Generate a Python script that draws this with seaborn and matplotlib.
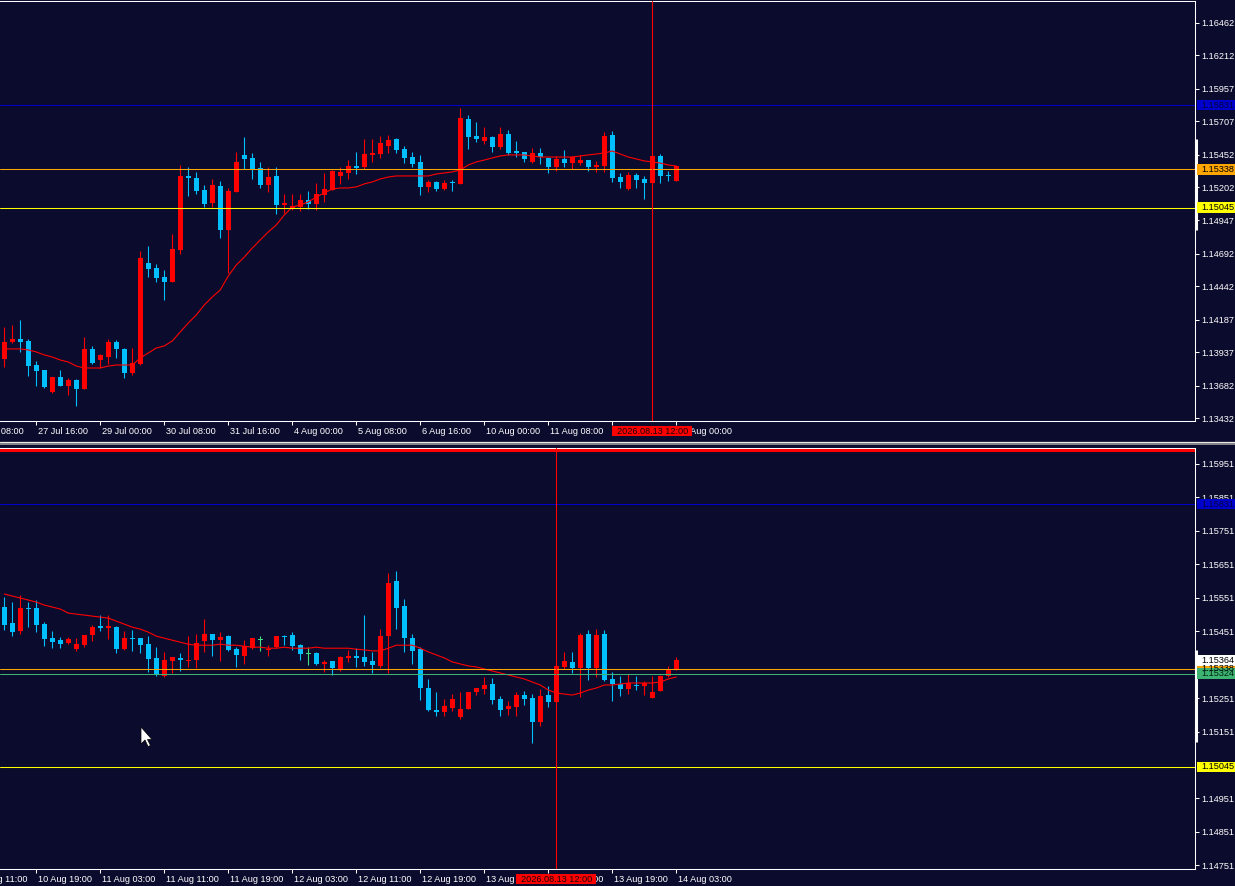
import numpy as np
import matplotlib
matplotlib.use("Agg")
import matplotlib.pyplot as plt
import matplotlib.transforms as mtransforms
from matplotlib.patches import Rectangle, Polygon
from matplotlib.lines import Line2D
import seaborn as sns

# ---- top panel (H4) ----
top_open = [1.13886, 1.14016, 1.14039, 1.14024, 1.13840, 1.13802, 1.13633, 1.13748, 1.13679, 1.13725,
            1.13656, 1.13963, 1.13878, 1.13901, 1.14016, 1.13963, 1.13779, 1.13848, 1.14621, 1.14583,
            1.14514, 1.14476, 1.14721, 1.15288, 1.15273, 1.15181, 1.15081, 1.15211, 1.14874, 1.15165,
            1.15449, 1.15426, 1.15349, 1.15219, 1.15288, 1.15066, 1.15043, 1.15050, 1.15104, 1.15073,
            1.15142, 1.15181, 1.15288, 1.15311, 1.15364, 1.15357, 1.15449, 1.15456, 1.15518, 1.15571,
            1.15495, 1.15433, 1.15395, 1.15204, 1.15242, 1.15188, 1.15242, 1.15227, 1.15724, 1.15594,
            1.15556, 1.15587, 1.15510, 1.15610, 1.15479, 1.15472, 1.15395, 1.15464, 1.15426, 1.15357,
            1.15418, 1.15387, 1.15387, 1.15410, 1.15357, 1.15364, 1.15602, 1.15280, 1.15188, 1.15296,
            1.15265, 1.15234, 1.15441, 1.15296, 1.15250]
top_high = [1.14131, 1.14147, 1.14185, 1.14039, 1.13871, 1.13802, 1.13748, 1.13802, 1.13741, 1.13733,
            1.14055, 1.13986, 1.13924, 1.14039, 1.14032, 1.13970, 1.13970, 1.14713, 1.14752, 1.14614,
            1.14568, 1.14844, 1.15372, 1.15357, 1.15319, 1.15219, 1.15265, 1.15250, 1.15196, 1.15472,
            1.15587, 1.15464, 1.15395, 1.15357, 1.15357, 1.15150, 1.15150, 1.15150, 1.15173, 1.15234,
            1.15311, 1.15334, 1.15357, 1.15410, 1.15472, 1.15571, 1.15571, 1.15594, 1.15602, 1.15579,
            1.15518, 1.15472, 1.15449, 1.15257, 1.15250, 1.15257, 1.15257, 1.15809, 1.15755, 1.15701,
            1.15663, 1.15594, 1.15663, 1.15640, 1.15556, 1.15472, 1.15502, 1.15502, 1.15426, 1.15441,
            1.15487, 1.15441, 1.15449, 1.15410, 1.15403, 1.15625, 1.15633, 1.15311, 1.15319, 1.15311,
            1.15288, 1.15441, 1.15456, 1.15326, 1.15364]
top_low = [1.13825, 1.14009, 1.13940, 1.13756, 1.13679, 1.13664, 1.13626, 1.13679, 1.13610, 1.13526,
           1.13656, 1.13848, 1.13817, 1.13848, 1.13894, 1.13741, 1.13764, 1.13840, 1.14514, 1.14476,
           1.14338, 1.14476, 1.14690, 1.15135, 1.15150, 1.15050, 1.15050, 1.14813, 1.14545, 1.15165,
           1.15342, 1.15265, 1.15196, 1.15165, 1.14997, 1.15004, 1.15027, 1.15020, 1.15035, 1.15027,
           1.15089, 1.15181, 1.15227, 1.15265, 1.15303, 1.15342, 1.15395, 1.15426, 1.15464, 1.15464,
           1.15387, 1.15357, 1.15142, 1.15165, 1.15173, 1.15181, 1.15173, 1.15227, 1.15495, 1.15548,
           1.15533, 1.15472, 1.15495, 1.15449, 1.15433, 1.15395, 1.15387, 1.15380, 1.15311, 1.15326,
           1.15357, 1.15342, 1.15372, 1.15326, 1.15319, 1.15319, 1.15242, 1.15196, 1.15181, 1.15196,
           1.15112, 1.15234, 1.15234, 1.15250, 1.15250]
top_close = [1.14016, 1.14039, 1.14016, 1.13832, 1.13794, 1.13672, 1.13748, 1.13679, 1.13725, 1.13656,
             1.13963, 1.13855, 1.13917, 1.14016, 1.13963, 1.13779, 1.13855, 1.14660, 1.14575, 1.14507,
             1.14476, 1.14729, 1.15288, 1.15273, 1.15173, 1.15073, 1.15219, 1.14874, 1.15173, 1.15395,
             1.15418, 1.15342, 1.15219, 1.15280, 1.15066, 1.15081, 1.15058, 1.15104, 1.15073, 1.15150,
             1.15188, 1.15326, 1.15319, 1.15364, 1.15349, 1.15456, 1.15464, 1.15541, 1.15564, 1.15487,
             1.15426, 1.15380, 1.15204, 1.15242, 1.15188, 1.15234, 1.15234, 1.15732, 1.15587, 1.15571,
             1.15587, 1.15510, 1.15610, 1.15464, 1.15464, 1.15418, 1.15464, 1.15433, 1.15357, 1.15418,
             1.15387, 1.15433, 1.15410, 1.15357, 1.15372, 1.15594, 1.15273, 1.15242, 1.15296, 1.15257,
             1.15234, 1.15441, 1.15288, 1.15288, 1.15364]
top_ma = [1.13963, 1.13963, 1.13963, 1.13955, 1.13940, 1.13917, 1.13901, 1.13878, 1.13863, 1.13832,
          1.13817, 1.13817, 1.13817, 1.13832, 1.13840, 1.13840, 1.13840, 1.13894, 1.13932, 1.13970,
          1.13986, 1.14024, 1.14093, 1.14162, 1.14223, 1.14300, 1.14361, 1.14415, 1.14522, 1.14606,
          1.14667, 1.14736, 1.14798, 1.14859, 1.14913, 1.14989, 1.15050, 1.15066, 1.15089, 1.15127,
          1.15158, 1.15188, 1.15196, 1.15196, 1.15204, 1.15227, 1.15242, 1.15265, 1.15280, 1.15288,
          1.15288, 1.15288, 1.15288, 1.15288, 1.15303, 1.15311, 1.15319, 1.15334, 1.15372, 1.15395,
          1.15410, 1.15426, 1.15441, 1.15449, 1.15449, 1.15449, 1.15441, 1.15433, 1.15433, 1.15433,
          1.15433, 1.15433, 1.15441, 1.15449, 1.15456, 1.15464, 1.15479, 1.15456, 1.15433, 1.15418,
          1.15403, 1.15395, 1.15387, 1.15372, 1.15364]

# ---- bottom panel (H1) ----
bot_open = [1.15523, 1.15475, 1.15451, 1.15520, 1.15520, 1.15472, 1.15430, 1.15424, 1.15415, 1.15397,
            1.15409, 1.15439, 1.15466, 1.15460, 1.15463, 1.15397, 1.15430, 1.15430, 1.15412, 1.15370,
            1.15317, 1.15362, 1.15370, 1.15362, 1.15365, 1.15421, 1.15442, 1.15424, 1.15436, 1.15397,
            1.15376, 1.15400, 1.15427, 1.15395, 1.15403, 1.15436, 1.15439, 1.15409, 1.15385, 1.15385,
            1.15353, 1.15362, 1.15335, 1.15370, 1.15376, 1.15373, 1.15362, 1.15347, 1.15436, 1.15601,
            1.15526, 1.15430, 1.15397, 1.15281, 1.15215, 1.15209, 1.15221, 1.15195, 1.15218, 1.15269,
            1.15278, 1.15293, 1.15248, 1.15218, 1.15224, 1.15260, 1.15251, 1.15180, 1.15260, 1.15239,
            1.15344, 1.15359, 1.15341, 1.15442, 1.15341, 1.15442, 1.15308, 1.15293, 1.15278, 1.15290,
            1.15287, 1.15251, 1.15272, 1.15317, 1.15335]
bot_high = [1.15553, 1.15538, 1.15559, 1.15538, 1.15544, 1.15478, 1.15451, 1.15433, 1.15433, 1.15430,
            1.15439, 1.15469, 1.15499, 1.15499, 1.15466, 1.15451, 1.15454, 1.15430, 1.15436, 1.15403,
            1.15388, 1.15373, 1.15385, 1.15436, 1.15442, 1.15487, 1.15442, 1.15448, 1.15439, 1.15403,
            1.15424, 1.15430, 1.15436, 1.15409, 1.15436, 1.15439, 1.15448, 1.15412, 1.15403, 1.15388,
            1.15365, 1.15362, 1.15376, 1.15395, 1.15400, 1.15499, 1.15388, 1.15457, 1.15625, 1.15631,
            1.15547, 1.15442, 1.15403, 1.15308, 1.15269, 1.15248, 1.15263, 1.15269, 1.15269, 1.15281,
            1.15314, 1.15311, 1.15257, 1.15242, 1.15269, 1.15272, 1.15263, 1.15278, 1.15287, 1.15353,
            1.15388, 1.15388, 1.15445, 1.15454, 1.15457, 1.15454, 1.15329, 1.15317, 1.15323, 1.15317,
            1.15302, 1.15317, 1.15320, 1.15347, 1.15373]
bot_low = [1.15454, 1.15436, 1.15442, 1.15463, 1.15448, 1.15406, 1.15400, 1.15400, 1.15412, 1.15391,
           1.15403, 1.15421, 1.15451, 1.15427, 1.15385, 1.15395, 1.15391, 1.15385, 1.15329, 1.15317,
           1.15314, 1.15326, 1.15332, 1.15344, 1.15341, 1.15388, 1.15376, 1.15362, 1.15391, 1.15344,
           1.15353, 1.15397, 1.15391, 1.15376, 1.15400, 1.15409, 1.15395, 1.15365, 1.15350, 1.15350,
           1.15329, 1.15320, 1.15332, 1.15359, 1.15344, 1.15347, 1.15326, 1.15341, 1.15326, 1.15457,
           1.15388, 1.15353, 1.15245, 1.15212, 1.15198, 1.15198, 1.15212, 1.15189, 1.15218, 1.15260,
           1.15263, 1.15233, 1.15198, 1.15201, 1.15198, 1.15230, 1.15117, 1.15168, 1.15224, 1.15239,
           1.15338, 1.15326, 1.15254, 1.15305, 1.15314, 1.15302, 1.15242, 1.15257, 1.15263, 1.15275,
           1.15260, 1.15251, 1.15272, 1.15314, 1.15335]
bot_close = [1.15469, 1.15448, 1.15520, 1.15517, 1.15469, 1.15427, 1.15418, 1.15412, 1.15427, 1.15412,
             1.15439, 1.15463, 1.15460, 1.15466, 1.15397, 1.15430, 1.15427, 1.15409, 1.15367, 1.15320,
             1.15365, 1.15373, 1.15365, 1.15365, 1.15415, 1.15442, 1.15424, 1.15433, 1.15395, 1.15379,
             1.15406, 1.15430, 1.15427, 1.15397, 1.15436, 1.15433, 1.15406, 1.15382, 1.15385, 1.15353,
             1.15359, 1.15341, 1.15373, 1.15376, 1.15370, 1.15359, 1.15350, 1.15436, 1.15595, 1.15520,
             1.15430, 1.15391, 1.15281, 1.15215, 1.15209, 1.15227, 1.15248, 1.15218, 1.15269, 1.15281,
             1.15290, 1.15245, 1.15215, 1.15227, 1.15260, 1.15248, 1.15180, 1.15257, 1.15239, 1.15347,
             1.15362, 1.15341, 1.15439, 1.15341, 1.15439, 1.15305, 1.15293, 1.15278, 1.15296, 1.15287,
             1.15296, 1.15269, 1.15317, 1.15338, 1.15365]
bot_ma = [1.15562, 1.15556, 1.15550, 1.15544, 1.15538, 1.15529, 1.15523, 1.15517, 1.15505, 1.15502,
          1.15499, 1.15496, 1.15493, 1.15490, 1.15481, 1.15472, 1.15463, 1.15457, 1.15448, 1.15436,
          1.15430, 1.15424, 1.15418, 1.15412, 1.15409, 1.15409, 1.15409, 1.15412, 1.15409, 1.15409,
          1.15406, 1.15403, 1.15403, 1.15400, 1.15400, 1.15403, 1.15400, 1.15400, 1.15400, 1.15403,
          1.15400, 1.15400, 1.15400, 1.15400, 1.15397, 1.15395, 1.15392, 1.15392, 1.15400, 1.15409,
          1.15409, 1.15409, 1.15400, 1.15389, 1.15380, 1.15371, 1.15359, 1.15353, 1.15347, 1.15344,
          1.15338, 1.15332, 1.15326, 1.15320, 1.15314, 1.15308, 1.15299, 1.15290, 1.15275, 1.15266,
          1.15263, 1.15260, 1.15266, 1.15275, 1.15281, 1.15290, 1.15290, 1.15293, 1.15296, 1.15296,
          1.15296, 1.15296, 1.15299, 1.15308, 1.15314]

# axis ticks / labels
top_yticks = [1.16462, 1.16212, 1.15957, 1.15707, 1.15452, 1.15202, 1.14947,
              1.14692, 1.14442, 1.14187, 1.13937, 1.13682, 1.13432]
bot_yticks = [1.15951, 1.15851, 1.15751, 1.15651, 1.15551, 1.15451,
              1.15251, 1.15151, 1.14951, 1.14851, 1.14751]
top_xticks = [4, 12, 20, 28, 36, 44, 52, 60, 68, 76, 84]
top_xlabels = ["27 Jul 16:00", "29 Jul 00:00", "30 Jul 08:00", "31 Jul 16:00", "4 Aug 00:00",
               "5 Aug 08:00", "6 Aug 16:00", "10 Aug 00:00", "11 Aug 08:00", "12 Aug 16:00",
               "14 Aug 00:00"]
top_first_label = "24 Jul 08:00"
bot_xticks = [4, 12, 20, 28, 36, 44, 52, 60, 68, 76, 84]
bot_xlabels = ["10 Aug 19:00", "11 Aug 03:00", "11 Aug 11:00", "11 Aug 19:00", "12 Aug 03:00",
               "12 Aug 11:00", "12 Aug 19:00", "13 Aug 03:00", "13 Aug 11:00", "13 Aug 19:00",
               "14 Aug 03:00"]
bot_first_label = "10 Aug 11:00"

# horizontal levels and price tags
top_levels = [1.15831, 1.15338, 1.15045]
top_level_colors = ['#0000cd', '#ffa500', '#ffff00']
bot_levels = [1.15831, 1.15338, 1.15324, 1.15045]
bot_level_colors = ['#0000cd', '#ffa500', '#3cb371', '#ffff00']
bot_bid = 1.15364
bot_top_line = 1.15992
top_scroll = [1.15571, 1.14874]
bot_scroll = [1.15395, 1.15120]
top_cursor_bar = 81
bot_cursor_bar = 69
cursor_time = "2026.08.13 12:00"

W, H = 1235, 886
BG = '#0b0b2d'
UP, DOWN, DOJI = '#ff0000', '#00bfff', '#40e080'
FS = 6.6

sns.set_theme(style="dark", rc={"axes.facecolor": BG, "figure.facecolor": BG,
                                "axes.edgecolor": "white", "text.color": "white",
                                "xtick.color": "white", "ytick.color": "white"})
plt.rcParams['font.family'] = ['Liberation Sans', 'DejaVu Sans']

fig = plt.figure(figsize=(W / 100, H / 100), dpi=100)
ax_top = fig.add_axes([0, (H - 421) / H, 1195 / W, 420 / H])
ax_bot = fig.add_axes([0, (H - 869) / H, 1195 / W, 421.5 / H])


def draw_candles(ax, o, h, l, c, ppx):
    o, h, l, c = map(np.asarray, (o, h, l, c))
    x = np.arange(len(o))
    cols = np.where(c > o, UP, np.where(c < o, DOWN, DOJI))
    ax.vlines(x, l, h, colors=cols, linewidth=0.8, zorder=3)
    body = np.abs(c - o)
    hgt = np.maximum(body, ppx)
    bottom = np.minimum(o, c) - (hgt - body) / 2
    ax.bar(x, hgt, bottom=bottom, width=0.625, color=cols, linewidth=0, zorder=4)


def price_tag(ax, price, text, fc, tc, ppx):
    tr = mtransforms.blended_transform_factory(fig.transFigure, ax.transData)
    hgt = 10.5 * ppx
    ax.add_patch(Rectangle((1197 / W, price - hgt / 2), 38 / W, hgt, transform=tr,
                           facecolor=fc, edgecolor='none', clip_on=False, zorder=10))
    ax.text(1201.5 / W, price, text, transform=tr, color=tc, fontsize=FS,
            ha='left', va='center', clip_on=False, zorder=11)


def time_tag(ax, xbar, axis_px):
    # red time box sitting under the x axis, centred on the cursor bar
    tr = mtransforms.blended_transform_factory(ax.transData, fig.transFigure)
    top_px = axis_px + 5
    ax.add_patch(Rectangle((xbar - 5, (H - top_px - 10) / H), 10, 10 / H, transform=tr,
                           facecolor='#ff0000', edgecolor='none', clip_on=False, zorder=10))
    ax.text(xbar, (H - top_px - 5) / H, cursor_time, transform=tr, color='#1a0000',
            fontsize=FS, ha='center', va='center', clip_on=False, zorder=11)


def setup_panel(ax, ylim, o, h, l, c, ma, yticks, xticks, xlabels, first_label,
                levels, level_colors, scroll, vbar, axis_px):
    ax.set_xlim(-0.5375, 148.84)
    ax.set_ylim(*ylim)
    ppx = (ylim[1] - ylim[0]) / (ax.get_position().height * H)
    draw_candles(ax, o, h, l, c, ppx)
    sns.lineplot(x=np.arange(len(ma)), y=ma, ax=ax, color='#ff0000', linewidth=0.8,
                 errorbar=None, zorder=5)
    for p, col in zip(levels, level_colors):
        ax.axhline(p, color=col, linewidth=0.75, zorder=6)
    ax.axvline(vbar, color='#ff0000', linewidth=0.8, zorder=7)

    ax.yaxis.tick_right()
    ax.set_yticks(yticks)
    ax.set_yticklabels([f"{t:.5f}" for t in yticks])
    ax.set_xticks(xticks)
    ax.set_xticklabels(xlabels)
    ax.tick_params(axis='both', direction='out', length=3, width=0.75, pad=1.5,
                   colors='white', labelsize=FS)
    ax.tick_params(axis='x', bottom=True, top=False)
    ax.tick_params(axis='y', right=True, left=False)
    shift = mtransforms.ScaledTranslation(1.2 / 72, 0, fig.dpi_scale_trans)
    for lbl in ax.get_xticklabels():
        lbl.set_horizontalalignment('left')
        lbl.set_transform(lbl.get_transform() + shift)
    off = mtransforms.ScaledTranslation(1.2 / 72, -4.5 / 72, fig.dpi_scale_trans)
    ax.text(-4, 0, first_label, transform=ax.get_xaxis_transform() + off, color='white',
            fontsize=FS, ha='left', va='top', clip_on=False)
    ax.set_xlabel("")
    ax.set_ylabel("")
    ax.grid(False)
    for side in ['top', 'right', 'bottom']:
        ax.spines[side].set_color('white')
        ax.spines[side].set_linewidth(0.75)
    ax.spines['left'].set_visible(False)

    trs = mtransforms.blended_transform_factory(ax.transAxes, ax.transData)
    ax.plot([1.0012, 1.0012], scroll, transform=trs, color='white', linewidth=2.2,
            solid_capstyle='butt', clip_on=False, zorder=9)
    time_tag(ax, vbar, axis_px)
    return ppx


ppx_top = setup_panel(ax_top, (1.13411, 1.16628), top_open, top_high, top_low, top_close,
                      top_ma, top_yticks, top_xticks, top_xlabels, top_first_label,
                      top_levels, top_level_colors, top_scroll, top_cursor_bar, 421)
ppx_bot = setup_panel(ax_bot, (1.14740, 1.16000), bot_open, bot_high, bot_low, bot_close,
                      bot_ma, bot_yticks, bot_xticks, bot_xlabels, bot_first_label,
                      bot_levels, bot_level_colors, bot_scroll, bot_cursor_bar, 869)

ax_bot.axhline(bot_top_line, color='#ff0000', linewidth=2.2, zorder=8)

tag_text = {'#0000cd': '#000040', '#ffa500': 'black', '#ffff00': 'black', '#3cb371': '#002010'}
for p, col in zip(top_levels, top_level_colors):
    price_tag(ax_top, p, f"{p:.5f}", col, tag_text[col], ppx_top)
# order matters: orange, then bid, then green on top
price_tag(ax_bot, bot_levels[0], f"{bot_levels[0]:.5f}", bot_level_colors[0], '#000040', ppx_bot)
price_tag(ax_bot, bot_levels[3], f"{bot_levels[3]:.5f}", bot_level_colors[3], 'black', ppx_bot)
price_tag(ax_bot, bot_levels[1], f"{bot_levels[1]:.5f}", bot_level_colors[1], 'black', ppx_bot)
price_tag(ax_bot, bot_bid, f"{bot_bid:.5f}", 'white', 'black', ppx_bot)
price_tag(ax_bot, bot_levels[2], f"{bot_levels[2]:.5f}", bot_level_colors[2], '#002010', ppx_bot)

# window splitter between the two charts
fig.add_artist(Line2D([0, 1], [(H - 442) / H] * 2, color='#e8e8e8', linewidth=0.9))
fig.add_artist(Line2D([0, 1], [(H - 444.2) / H] * 2, color='#9a9a9a', linewidth=1.2))

# mouse pointer
pts = [(141, 727), (141, 744), (145, 740), (148, 746.5), (150.5, 745.5), (147.5, 739.5), (152, 739.5)]
fig.add_artist(Polygon([(x / W, (H - y) / H) for x, y in pts], closed=True,
                       transform=fig.transFigure, facecolor='white', edgecolor='black',
                       linewidth=0.5))

fig.savefig("out.png", dpi=100, facecolor=BG)
